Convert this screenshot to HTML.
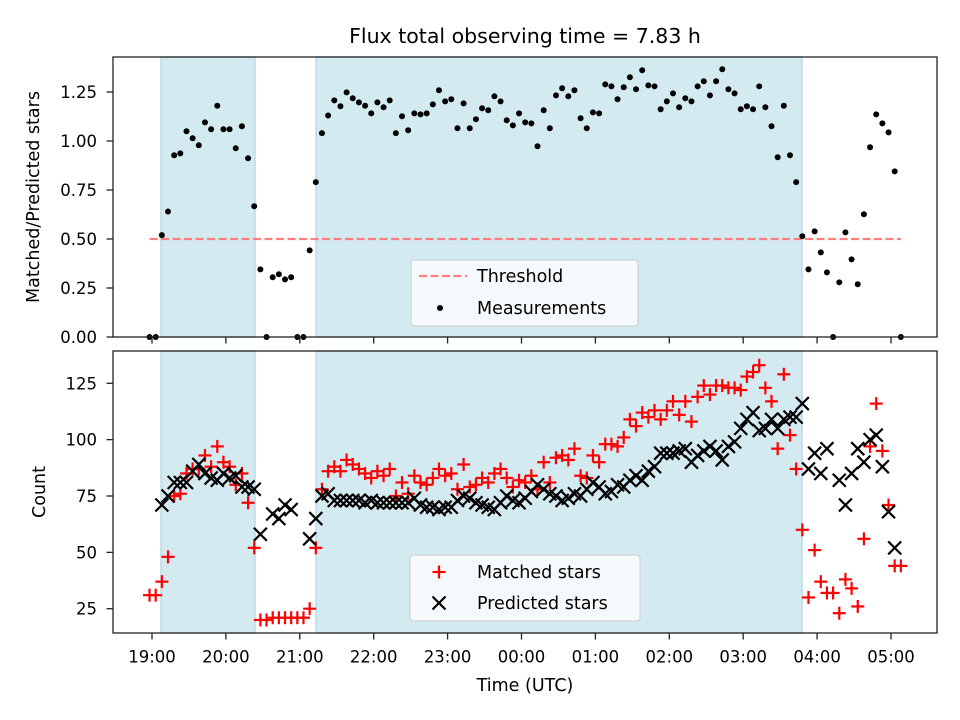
<!DOCTYPE html>
<html><head><meta charset="utf-8"><style>
body{margin:0;background:#fff;}
svg{display:block;font-family:"DejaVu Sans","Liberation Sans",sans-serif;}
</style></head><body>
<svg id="chart" width="960" height="720" viewBox="0 0 960 720" xmlns="http://www.w3.org/2000/svg">
<rect width="960" height="720" fill="#fff"/>
<text x="525" y="43" text-anchor="middle" font-size="20.5">Flux total observing time = 7.83 h</text>
<g id="top"></g><g id="bot"></g>
<text transform="translate(39,197) rotate(-90)" text-anchor="middle" font-size="17.5">Matched/Predicted stars</text>
<text transform="translate(45,492) rotate(-90)" text-anchor="middle" font-size="17.5">Count</text>
<text x="525" y="691" text-anchor="middle" font-size="17.5">Time (UTC)</text>
</svg>
<script>
const startMin = -2, stepMin = 5;
const ratio = [0,0,.52,.64,.927,.937,1.05,1.014,.978,1.095,1.06,1.18,1.06,1.06,.963,1.075,.912,.667,.345,0,.305,.32,.294,.305,0,0,.442,.79,1.04,1.13,1.207,1.177,1.248,1.218,1.197,1.18,1.141,1.197,1.172,1.207,1.04,1.126,1.055,1.141,1.136,1.141,1.187,1.259,1.202,1.213,1.065,1.192,1.065,1.111,1.167,1.157,1.228,1.202,1.106,1.08,1.141,1.095,1.09,.973,1.157,1.065,1.233,1.269,1.228,1.259,1.116,1.065,1.146,1.141,1.289,1.279,1.213,1.274,1.325,1.264,1.361,1.284,1.279,1.162,1.202,1.243,1.172,1.218,1.202,1.279,1.305,1.233,1.305,1.366,1.264,1.243,1.162,1.177,1.162,1.279,1.172,1.075,.917,1.18,.927,.79,.514,.345,.539,.432,.33,0,.279,.534,.396,.269,.626,.968,1.136,1.09,1.044,.845,0];
const matched = [31,31,37,48,75,76,85,87,87,93,88,97,90,88,80,85,72,52,20,20,21,21,21,21,21,21,25,52,78,86,88,86,91,89,87,85,83,86,84,87,75,81,76,84,81,80,83,87,84,85,78,89,79,80,83,81,85,87,83,79,82,81,84,78,90,81,92,93,91,96,84,83,93,90,98,98,97,101,109,106,112,110,113,109,113,117,111,117,108,119,124,120,124,124,123,123,122,128,130,133,123,117,96,129,102,87,60,30,51,37,32,32,23,38,34,26,56,97,116,95,71,44,44];
const predicted = [null,null,71,75,81,81,81,86,89,85,83,82,85,83,84,79,79,78,58,null,67,65,71,69,null,null,56,65,75,76,73,73,73,73,73,72,73,72,72,72,72,72,72,74,71,70,70,69,70,70,73,75,74,72,71,70,69,72,75,73,72,74,77,80,78,76,75,73,74,76,75,78,81,79,76,77,80,79,82,84,82,86,88,94,94,94,95,96,90,93,95,97,95,91,97,99,105,109,112,104,105,109,105,109,110,110,116,87,94,85,96,null,82,71,85,96,90,100,102,88,68,52,null];
const threshold = 0.5;
const shadeStart = [0.122, 2.22];
const shadeEnd = [1.394, 8.796];
const xTicks = [0,1,2,3,4,5,6,7,8,9,10];
const xTickLabels = ["19:00","20:00","21:00","22:00","23:00","00:00","01:00","02:00","03:00","04:00","05:00"];
const topTicks = [0,0.25,0.5,0.75,1.0,1.25];
const topTickLabels = ["0.00","0.25","0.50","0.75","1.00","1.25"];
const botTicks = [25,50,75,100,125];
const botTickLabels = ["25","50","75","100","125"];

const NS="http://www.w3.org/2000/svg";
const L=113,R=937;
const xs=h=>152+73.9*h;
const yTop=v=>337-196*v;
const yBot=c=>608.7-(c-25)*2.254;
const hours=ratio.map((_,i)=>(startMin+stepMin*i)/60);
function mk(tag,attrs,parent){const e=document.createElementNS(NS,tag);for(const k in attrs)e.setAttribute(k,attrs[k]);parent.appendChild(e);return e;}

function panel(g,y0,y1,name){
  mk('rect',{x:L,y:y0,width:R-L,height:y1-y0,fill:'#fff'},g);
  for(let k=0;k<shadeStart.length;k++){
    const r=mk('rect',{x:xs(shadeStart[k]),y:y0,width:xs(shadeEnd[k])-xs(shadeStart[k]),height:y1-y0,fill:'#d4eaf1',stroke:'#bcdbe6','stroke-width':1.5},g);
    
    
  }
}
function frame(g,y0,y1,ticks,labels,fn,showX,name){
  const f=mk('rect',{x:L,y:y0,width:R-L,height:y1-y0,fill:'none',stroke:'#222','stroke-width':1.3},g);
  
  
  ticks.forEach((t,i)=>{
    const y=fn(t);
    mk('line',{x1:L-6.5,x2:L,y1:y,y2:y,stroke:'#222','stroke-width':1.3},g);
    const tx=mk('text',{x:97,y:y+6,'text-anchor':'end','font-size':16.5},g);
    tx.textContent=labels[i];
    
    
  });
  xTicks.forEach((t,i)=>{
    const x=xs(t);
    mk('line',{x1:x,x2:x,y1:y1,y2:y1+6.5,stroke:'#222','stroke-width':1.3},g);
    if(showX){
      const tx=mk('text',{x:x,y:y1+29.5,'text-anchor':'middle','font-size':16.5},g);
      tx.textContent=xTickLabels[i];
      
      
    }
  });
}
// top panel
const gt=document.getElementById('top');
panel(gt,57,337,'top');
const th=mk('line',{x1:xs(hours[0]),x2:xs(hours[hours.length-1]),y1:yTop(threshold),y2:yTop(threshold),stroke:'#ff7f7f','stroke-width':2.2,'stroke-dasharray':'8,3.5'},gt);


ratio.forEach((v,i)=>{
  const c=mk('circle',{cx:xs(hours[i]),cy:yTop(v),r:3,fill:'#000'},gt);
  
  
});
frame(gt,57,337,topTicks,topTickLabels,yTop,false,'top');
// top legend
const lg1=mk('g',{},gt);


mk('rect',{x:411,y:260,width:227,height:66,rx:3,fill:'#f5f9fc',stroke:'#ccc'},lg1);
mk('line',{x1:419,x2:467,y1:276,y2:276,stroke:'#ff7f7f','stroke-width':2.2,'stroke-dasharray':'8,3.5'},lg1);
let t1=mk('text',{x:477,y:282,'font-size':17.5},lg1);t1.textContent='Threshold';


mk('circle',{cx:440,cy:308,r:3,fill:'#000'},lg1);
let t2=mk('text',{x:477,y:314,'font-size':17.5},lg1);t2.textContent='Measurements';



// bottom panel
const gb=document.getElementById('bot');
panel(gb,351,633,'bottom');
function plus(x,y,p){const g=mk('g',{stroke:'#ff0000','stroke-width':2.2},p);mk('line',{x1:x-6.5,x2:x+6.5,y1:y,y2:y},g);mk('line',{x1:x,x2:x,y1:y-6.5,y2:y+6.5},g);return g;}
function cross(x,y,p){const g=mk('g',{stroke:'#000','stroke-width':2.2},p);mk('line',{x1:x-6.5,x2:x+6.5,y1:y-6.5,y2:y+6.5},g);mk('line',{x1:x-6.5,x2:x+6.5,y1:y+6.5,y2:y-6.5},g);return g;}
matched.forEach((v,i)=>{if(v==null)return;
  const m=plus(xs(hours[i]),yBot(v),gb);
  
  
});
predicted.forEach((v,i)=>{if(v==null)return;
  const m=cross(xs(hours[i]),yBot(v),gb);
  
  
});
frame(gb,351,633,botTicks,botTickLabels,yBot,true,'bottom');
const lg2=mk('g',{},gb);


mk('rect',{x:410,y:555,width:230,height:66,rx:3,fill:'#f5f9fc',stroke:'#ccc'},lg2);
plus(439,572,lg2);
let t3=mk('text',{x:477,y:578,'font-size':17.5},lg2);t3.textContent='Matched stars';


cross(439,603,lg2);
let t4=mk('text',{x:477,y:609,'font-size':17.5},lg2);t4.textContent='Predicted stars';


</script>
</body></html>
